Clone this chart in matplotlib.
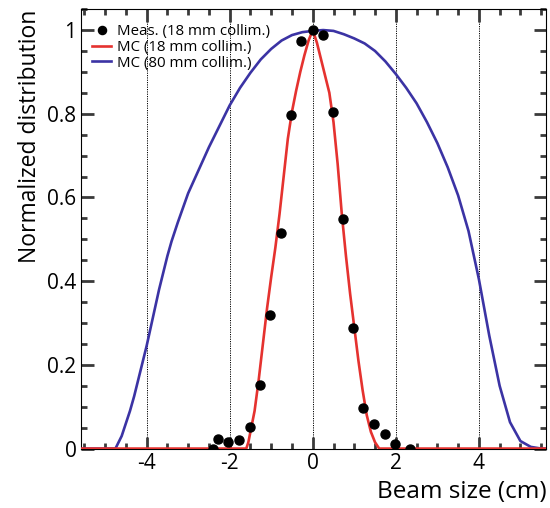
import numpy as np
import matplotlib
matplotlib.use("Agg")
import matplotlib.pyplot as plt
from matplotlib.ticker import MultipleLocator

plt.rcParams["font.family"] = ["Open Sans", "DejaVu Sans"]
plt.rcParams["axes.unicode_minus"] = False

# measured points (18 mm collimator)
meas_x = [-2.40, -2.27, -2.03, -1.78, -1.52, -1.28, -1.03, -0.77, -0.52, -0.29,
          0.00, 0.24, 0.49, 0.73, 0.98, 1.22, 1.48, 1.73, 1.98, 2.34]
meas_y = [0.000, 0.022, 0.015, 0.020, 0.051, 0.151, 0.318, 0.514, 0.796, 0.973,
          1.000, 0.988, 0.804, 0.548, 0.287, 0.097, 0.058, 0.034, 0.010, 0.000]

# MC, 18 mm collimator
mc18_x = [-5.57, -1.60, -1.55, -1.50, -1.40, -1.30, -1.20, -1.10, -1.00, -0.90, -0.80,
          -0.70, -0.60, -0.50, -0.40, -0.30, -0.20, -0.10, 0.00, 0.10, 0.20, 0.30,
          0.40, 0.50, 0.60, 0.70, 0.80, 0.90, 1.00, 1.10, 1.20, 1.30, 1.40, 1.50,
          1.60, 5.62]
mc18_y = [0.0, 0.0, 0.015, 0.04, 0.09, 0.165, 0.25, 0.335, 0.41, 0.48, 0.56,
          0.65, 0.74, 0.805, 0.855, 0.90, 0.94, 0.975, 1.0, 0.97, 0.93, 0.89,
          0.85, 0.78, 0.68, 0.56, 0.46, 0.37, 0.29, 0.21, 0.14, 0.08, 0.04, 0.015,
          0.0, 0.0]

# MC, 80 mm collimator
mc80_x = [-5.57, -4.75, -4.60, -4.50, -4.40, -4.30, -4.20, -4.10, -4.00, -3.90, -3.80,
          -3.70, -3.60, -3.50, -3.40, -3.25, -3.00, -2.75, -2.50, -2.25, -2.00, -1.75,
          -1.50, -1.25, -1.00, -0.75, -0.50, -0.25, 0.00, 0.25, 0.50, 0.75, 1.00,
          1.25, 1.50, 1.75, 2.00, 2.25, 2.50, 2.75, 3.00, 3.25, 3.50, 3.75, 4.00,
          4.25, 4.50, 4.75, 5.00, 5.25, 5.50, 5.62]
mc80_y = [0.0, 0.0, 0.03, 0.06, 0.09, 0.125, 0.165, 0.205, 0.245, 0.29, 0.335,
          0.38, 0.42, 0.46, 0.495, 0.54, 0.61, 0.665, 0.72, 0.77, 0.82, 0.862,
          0.898, 0.93, 0.955, 0.975, 0.988, 0.995, 0.998, 1.0, 0.998, 0.99, 0.98,
          0.968, 0.95, 0.925, 0.895, 0.862, 0.825, 0.78, 0.73, 0.672, 0.605, 0.52, 0.405,
          0.27, 0.15, 0.063, 0.018, 0.004, 0.0, 0.0]

xticks = [-4, -2, 0, 2, 4]
xticklabels = ["-4", "-2", "0", "2", "4"]
yticks = [0, 0.2, 0.4, 0.6, 0.8, 1.0]
yticklabels = ["0", "0.2", "0.4", "0.6", "0.8", "1"]

red = "#e5322f"
blue = "#3b33a4"

fig = plt.figure(figsize=(5.5, 5.08), dpi=100)
ax = fig.add_axes([0.148, 0.117, 0.845, 0.865])

for xv in xticks:
    ax.axvline(xv, color="black", ls=(0, (1.2, 1.2)), lw=0.7, zorder=1)

ax.plot(meas_x, meas_y, "o", color="black", ms=6.5, zorder=4,
        label="Meas. (18 mm collim.)")
ax.plot(mc18_x, mc18_y, color=red, lw=1.9, zorder=3, label="MC (18 mm collim.)")
ax.plot(mc80_x, mc80_y, color=blue, lw=1.9, zorder=2, label="MC (80 mm collim.)")

ax.set_xlim(-5.57, 5.62)
ax.set_ylim(0, 1.05)

ax.set_xticks(xticks, labels=xticklabels)
ax.set_yticks(yticks, labels=yticklabels)
ax.xaxis.set_minor_locator(MultipleLocator(0.5))
ax.yaxis.set_minor_locator(MultipleLocator(0.05))

ax.tick_params(which="both", direction="in", top=True, right=True,
               labelsize=15, color="#3a3a3a")
ax.tick_params(which="major", length=9, width=2)
ax.tick_params(which="minor", length=4.5, width=2)

ax.set_xlabel("Beam size (cm)", loc="right", fontsize=17.5)
ax.set_ylabel("Normalized distribution", loc="top", fontsize=16.5)

ax.legend(loc="upper left", bbox_to_anchor=(0.0, 0.99), frameon=False,
          fontsize=10.8, handlelength=1.3, handletextpad=0.4, labelspacing=0.05,
          borderpad=0.2, markerscale=0.9)

plt.savefig("out.png", dpi=100)
